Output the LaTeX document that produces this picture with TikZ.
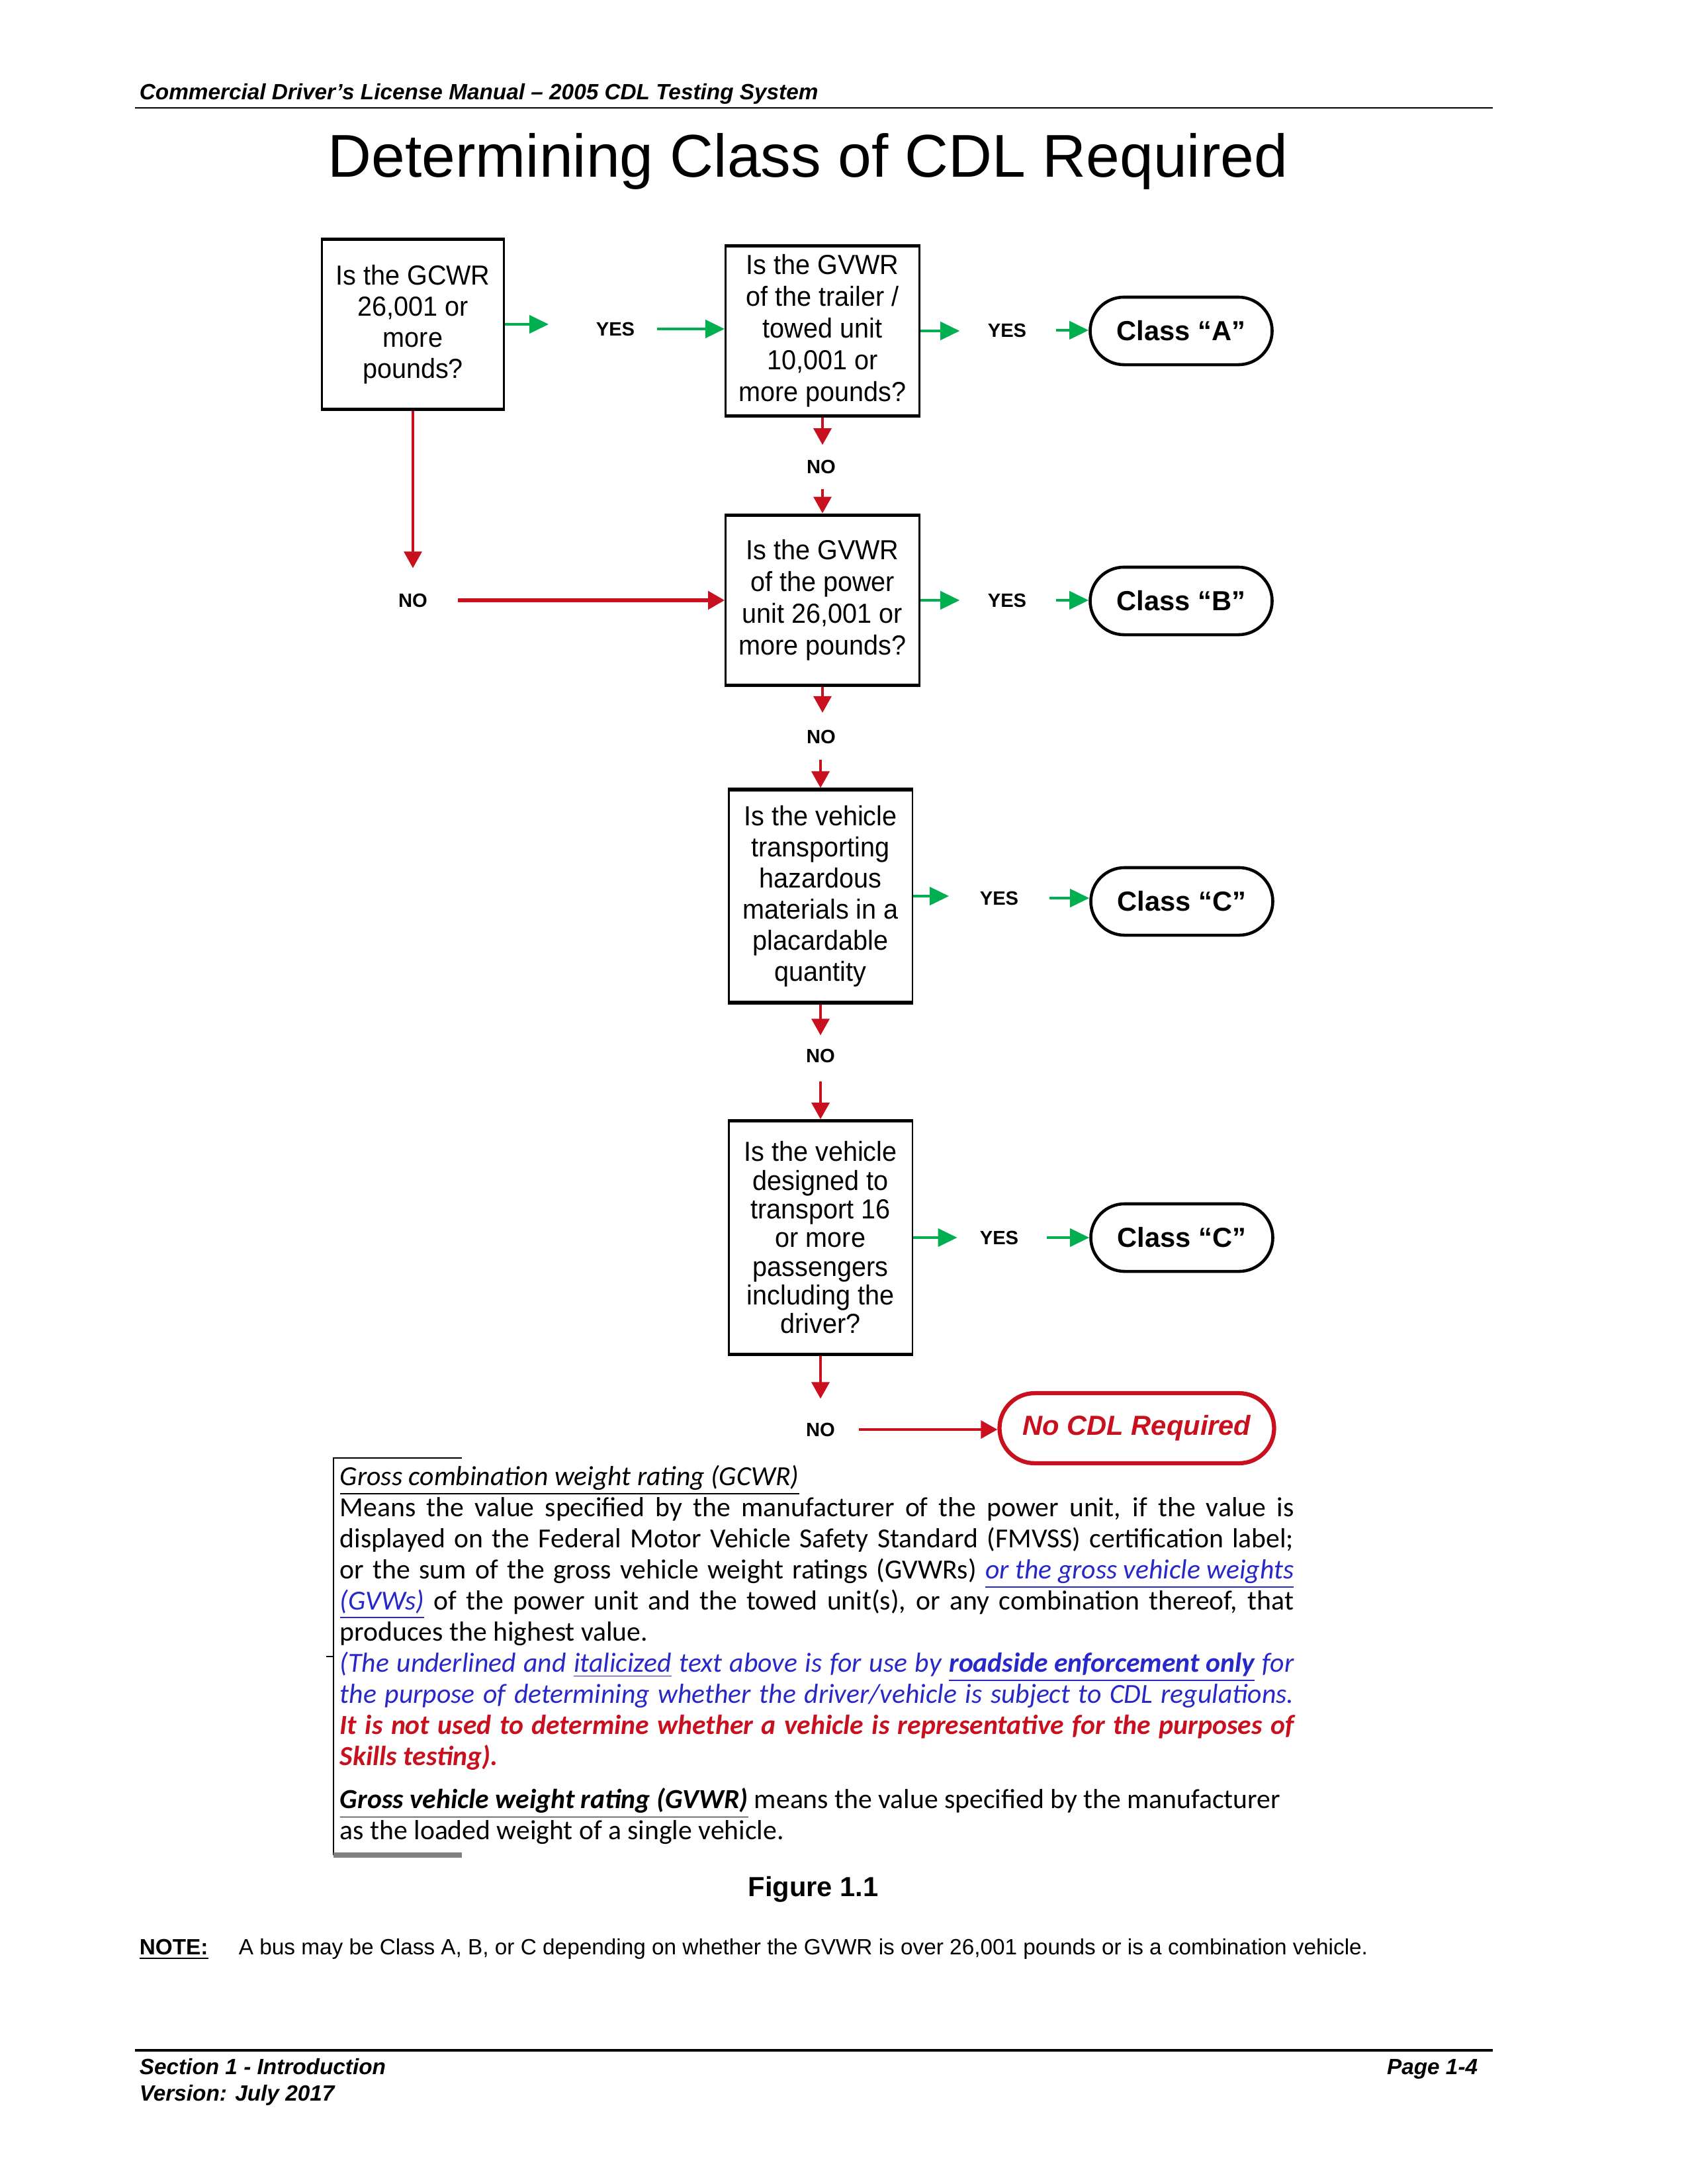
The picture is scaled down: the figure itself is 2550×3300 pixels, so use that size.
\documentclass[tikz,border=0pt]{standalone}
\usepackage{fontspec}
\setmainfont{Liberation Sans}
\newfontfamily\calib{Carlito}
\newfontfamily\boxfont{Liberation Sans}[FakeStretch=0.95]
\usetikzlibrary{arrows.meta,shapes.misc}
\definecolor{cgreen}{RGB}{0,176,80}
\definecolor{cred}{RGB}{200,16,30}
\definecolor{cblue}{RGB}{40,40,200}
\newcommand\jline[1]{\hbox to 346pt{#1}}
\begin{document}
\begin{tikzpicture}[x=0.24pt,y=-0.24pt,
  qbox/.style={draw, line width=0.7pt, align=center, inner sep=0pt,
    font=\boxfont\fontsize{10}{11.3}\selectfont,
    path picture={\draw[line width=1.8pt]
      (path picture bounding box.north west) -- (path picture bounding box.north east)
      (path picture bounding box.south west) -- (path picture bounding box.south east);}},
  term/.style={draw, rounded rectangle, line width=1.1pt, minimum width=66pt,
    minimum height=24.5pt, inner sep=0pt, font=\bfseries\fontsize{10}{12}\selectfont},
  lbl/.style={inner sep=0pt, font=\bfseries\fontsize{7}{8}\selectfont},
  garrow/.style={cgreen, line width=1.1pt, -{Triangle[length=7pt,width=6.5pt]}},
  rarrow/.style={cred, line width=0.8pt, -{Triangle[length=6pt,width=6.5pt]}},
  hf/.style={inner sep=0pt, font=\bfseries\itshape\fontsize{8}{10}\selectfont}]
\fill[white] (0,0) rectangle (2550,3300);
\useasboundingbox (0,0) rectangle (2550,3300);

% header
\node[hf, anchor=base west] (hdr) at (210,150) {Commercial Driver’s License Manual – 2005 CDL Testing System};
\draw[line width=0.6pt] (204,163) -- (2256,163);
\node[anchor=base, inner sep=0pt, font=\fontsize{21.9}{26}\selectfont] (title) at (1221,267) {Determining Class of CDL Required};

% decision boxes
\node[qbox, minimum width=66.2pt, minimum height=62.2pt] (q1) at (624,490) {Is the GCWR\\26,001 or\\more\\pounds?};
\node[qbox, minimum width=70.3pt, minimum height=62.4pt, font=\boxfont\fontsize{10}{11.5}\selectfont] (q2) at (1243,500) {Is the GVWR\\of the trailer /\\towed unit\\10,001 or\\more pounds?};
\node[qbox, minimum width=70.3pt, minimum height=62.4pt, font=\boxfont\fontsize{10}{11.5}\selectfont] (q3) at (1243,907) {Is the GVWR\\of the power\\unit 26,001 or\\more pounds?};
\node[qbox, minimum width=66.7pt, minimum height=77.8pt] (q4) at (1240,1354) {Is the vehicle\\transporting\\hazardous\\materials in a\\placardable\\quantity};
\node[qbox, minimum width=66.7pt, minimum height=85.2pt, font=\boxfont\fontsize{10}{10.4}\selectfont] (q5) at (1240,1870) {Is the vehicle\\designed to\\transport 16\\or more\\passengers\\including the\\driver?};

% terminals
\node[term] (ca) at (1785,500) {Class “A”};
\node[term] (cb) at (1785,908) {Class “B”};
\node[term] (cc1) at (1786,1362) {Class “C”};
\node[term] (cc2) at (1786,1870) {Class “C”};
\node[term, draw=cred, line width=1.5pt, minimum width=99.6pt, minimum height=25.4pt, text=cred, font=\bfseries\itshape\fontsize{10}{12}\selectfont] (nocdl) at (1718,2158) {No CDL Required};

% labels
\node[lbl] (y1) at (930,497) {YES};
\node[lbl] (y2) at (1522,499) {YES};
\node[lbl] (y3) at (1522,907) {YES};
\node[lbl] (y4) at (1510,1357) {YES};
\node[lbl] (y5) at (1510,1870) {YES};
\node[lbl] (n1) at (624,907) {NO};
\node[lbl] (n2) at (1241,705) {NO};
\node[lbl] (n3) at (1241,1113) {NO};
\node[lbl] (n4) at (1240,1595) {NO};
\node[lbl] (n5) at (1240,2160) {NO};

% green arrows
\draw[garrow, shorten >=17pt] (q1.east) -- (q1.east -| y1.west);
\draw[garrow, shorten <=8pt] (y1.east) -- (y1.east -| q2.west);
\draw[garrow, shorten >=10pt] (q2.east) -- (q2.east -| y2.west);
\draw[garrow, shorten <=10.5pt] (y2.east) -- (y2.east -| ca.west);
\draw[garrow, shorten >=10pt] (q3.east) -- (q3.east -| y3.west);
\draw[garrow, shorten <=10.5pt] (y3.east) -- (y3.east -| cb.west);
\draw[garrow, shorten >=11pt] (q4.east) -- (q4.east -| y4.west);
\draw[garrow, shorten <=11pt] (y4.east) -- (y4.east -| cc1.west);
\draw[garrow, shorten >=8pt] (q5.east) -- (q5.east -| y5.west);
\draw[garrow, shorten <=10pt] (y5.east) -- (y5.east -| cc2.west);

% red arrows
\draw[rarrow, shorten >=9pt] (q1.south) -- (q1.south |- n1.north);
\draw[rarrow, line width=1.3pt, shorten <=10.8pt] (n1.east) -- (n1.east -| q3.west);
\draw[rarrow, shorten >=5.2pt] (q2.south) -- (q2.south |- n2.north);
\draw[rarrow, shorten <=5.4pt] (q3.north |- n2.south) -- (q3.north);
\draw[rarrow, shorten >=6pt] (q3.south) -- (q3.south |- n3.north);
\draw[rarrow, shorten <=5.6pt] (q4.north |- n3.south) -- (q4.north);
\draw[rarrow, shorten >=4.7pt] (q4.south) -- (q4.south |- n4.north);
\draw[rarrow, shorten <=6.6pt] (q5.north |- n4.south) -- (q5.north);
\draw[rarrow, shorten >=8.5pt] (q5.south) -- (q5.south |- n5.north);
\draw[rarrow, shorten <=8.4pt] (n5.east) -- (n5.east -| nocdl.west);

% definitions block
\draw[line width=0.7pt] (698,2203) -- (504,2203) -- (504,2803);
\draw[line width=2pt, gray] (504,2803) -- (698,2803);
\draw[line width=0.7pt] (493,2503) -- (504,2503);
\node[anchor=base west, inner sep=0pt] (defs) at (513,2244) {\begin{minipage}[t]{346pt}\calib\fontsize{10}{11.3}\selectfont
\hbox{\itshape\underline{Gross combination weight rating (GCWR)}}
\jline{Means the value specified by the manufacturer of the power unit, if the value is}
\jline{displayed on the Federal Motor Vehicle Safety Standard (FMVSS) certification label;}
\jline{or the sum of the gross vehicle weight ratings (GVWRs) {\color{cblue}\itshape\underline{or the gross vehicle weights}}}
\jline{{\color{cblue}\itshape\underline{(GVWs)}} of the power unit and the towed unit(s), or any combination thereof, that}
\hbox{produces the highest value.}
\jline{\color{cblue}\itshape (The underlined and \underline{italicized} text above is for use by \textbf{\underline{roadside enforcement only}} for}
\jline{\color{cblue}\itshape the purpose of determining whether the driver/vehicle is subject to CDL regulations.}
\jline{\color{cred}\bfseries\itshape It is not used to determine whether a vehicle is representative for the purposes of}
\hbox{\color{cred}\bfseries\itshape Skills testing).}
\vskip 4.3pt
\hbox{{\bfseries\itshape\underline{Gross vehicle weight rating (GVWR)}} means the value specified by the manufacturer}
\hbox{as the loaded weight of a single vehicle.}
\end{minipage}};

% caption and note
\node[anchor=base, inner sep=0pt, font=\bfseries\fontsize{10}{12}\selectfont] (fig) at (1229,2865) {Figure 1.1};
\node[anchor=base west, inner sep=0pt, font=\bfseries\fontsize{8}{10}\selectfont] (notelbl) at (210,2953) {\underline{NOTE:}};
\node[anchor=base west, inner sep=0pt, font=\fontsize{8}{10}\selectfont] (note) at (360,2953) {A bus may be Class A, B, or C depending on whether the GVWR is over 26,001 pounds or is a combination vehicle.};

% footer
\draw[line width=0.8pt] (204,3098) -- (2256,3098);
\node[hf, anchor=base west] (sec) at (210,3134) {Section 1 - Introduction};
\node[hf, anchor=base west] (ver) at (210,3174) {Version: July 2017};
\node[hf, anchor=base east] (pg) at (2234,3134) {Page 1-4};
\end{tikzpicture}
\end{document}
